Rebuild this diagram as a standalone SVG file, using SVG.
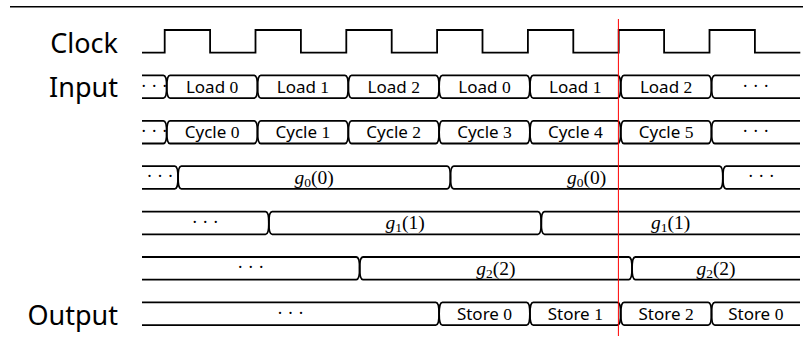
<svg xmlns="http://www.w3.org/2000/svg" xmlns:xlink="http://www.w3.org/1999/xlink" width="803" height="343" viewBox="0 0 803 343">
  <style>
    .w { fill: none; stroke: #000; stroke-width: 1.8; stroke-linejoin: round; }
    .clk { fill: none; stroke: #000; stroke-width: 1.8; stroke-linejoin: miter; }
    .name { font-family: "Noto Sans", "DejaVu Sans", sans-serif; font-size: 27px; text-anchor: end; fill: #000; }
    .lbl { font-family: "Noto Sans", "DejaVu Sans", sans-serif; font-size: 17px; text-anchor: middle; fill: #000; }
    .num { font-family: "Liberation Serif", "DejaVu Serif", serif; font-size: 17.5px; }
    .m { font-family: "Liberation Serif", "DejaVu Serif", serif; font-size: 19.5px; text-anchor: middle; fill: #000; }
    .it { font-style: italic; }
    .sub { font-size: 13.5px; }
    .dots { font-family: "Liberation Serif", "DejaVu Serif", serif; font-size: 18px; letter-spacing: 4.5px; text-anchor: middle; fill: #000; }
  </style>
  <defs>
    <!-- one bus cell spanning a full clock period, between two crossings -->
    <path id="cell" class="w" d="M3.3,0 H87.5 Q90.8,0 90.8,11.35 Q90.8,22.7 87.5,22.7 H3.3 Q0,22.7 0,11.35 Q0,0 3.3,0 Z"/>
  </defs>

  <!-- header rule -->
  <line x1="10" y1="6.8" x2="803" y2="6.8" stroke="#000" stroke-width="1.4"/>

  <g id="clock">
    <text class="name" x="118" y="52.7">Clock</text>
    <path class="clk" d="M142,52.7 H164.7 V30 H210.1 V52.7 H255.5 V30 H300.9 V52.7 H346.3 V30 H391.7 V52.7 H437.1 V30 H482.5 V52.7 H527.9 V30 H573.3 V52.7 H618.7 V30 H664.1 V52.7 H709.5 V30 H754.9 V52.7 H800.3"/>
  </g>

  <g id="input">
    <text class="name" x="118" y="97">Input</text>
    <path class="w" d="M142,75.4 H163.4 Q166.7,75.4 166.7,86.75 Q166.7,98.1 163.4,98.1 H142"/>
    <use xlink:href="#cell" x="166.7" y="75.4"/>
    <use xlink:href="#cell" x="257.5" y="75.4"/>
    <use xlink:href="#cell" x="348.3" y="75.4"/>
    <use xlink:href="#cell" x="439.1" y="75.4"/>
    <use xlink:href="#cell" x="529.9" y="75.4"/>
    <use xlink:href="#cell" x="620.7" y="75.4"/>
    <path class="w" d="M800,75.4 H714.8 Q711.5,75.4 711.5,86.75 Q711.5,98.1 714.8,98.1 H800"/>
    <text class="dots" x="156.5" y="91.5">···</text>
    <text class="lbl" x="212.1" y="92.6">Load <tspan class="num">0</tspan></text>
    <text class="lbl" x="302.9" y="92.6">Load <tspan class="num">1</tspan></text>
    <text class="lbl" x="393.7" y="92.6">Load <tspan class="num">2</tspan></text>
    <text class="lbl" x="484.5" y="92.6">Load <tspan class="num">0</tspan></text>
    <text class="lbl" x="575.3" y="92.6">Load <tspan class="num">1</tspan></text>
    <text class="lbl" x="666.1" y="92.6">Load <tspan class="num">2</tspan></text>
    <text class="dots" x="758" y="91.5">···</text>
  </g>

  <g id="cycle">
    <path class="w" d="M142,120.8 H163.4 Q166.7,120.8 166.7,132.15 Q166.7,143.5 163.4,143.5 H142"/>
    <use xlink:href="#cell" x="166.7" y="120.8"/>
    <use xlink:href="#cell" x="257.5" y="120.8"/>
    <use xlink:href="#cell" x="348.3" y="120.8"/>
    <use xlink:href="#cell" x="439.1" y="120.8"/>
    <use xlink:href="#cell" x="529.9" y="120.8"/>
    <use xlink:href="#cell" x="620.7" y="120.8"/>
    <path class="w" d="M800,120.8 H714.8 Q711.5,120.8 711.5,132.15 Q711.5,143.5 714.8,143.5 H800"/>
    <text class="dots" x="156.5" y="136.9">···</text>
    <text class="lbl" x="212.1" y="138">Cycle <tspan class="num">0</tspan></text>
    <text class="lbl" x="302.9" y="138">Cycle <tspan class="num">1</tspan></text>
    <text class="lbl" x="393.7" y="138">Cycle <tspan class="num">2</tspan></text>
    <text class="lbl" x="484.5" y="138">Cycle <tspan class="num">3</tspan></text>
    <text class="lbl" x="575.3" y="138">Cycle <tspan class="num">4</tspan></text>
    <text class="lbl" x="666.1" y="138">Cycle <tspan class="num">5</tspan></text>
    <text class="dots" x="758" y="136.9">···</text>
  </g>

  <g id="g0">
    <path class="w" d="M142,166.2 H174.75 Q178.05,166.2 178.05,177.55 Q178.05,188.9 174.75,188.9 H142"/>
    <path class="w" d="M181.35,166.2 H447.15 Q450.45,166.2 450.45,177.55 Q450.45,188.9 447.15,188.9 H181.35 Q178.05,188.9 178.05,177.55 Q178.05,166.2 181.35,166.2 Z"/>
    <path class="w" d="M453.75,166.2 H719.55 Q722.85,166.2 722.85,177.55 Q722.85,188.9 719.55,188.9 H453.75 Q450.45,188.9 450.45,177.55 Q450.45,166.2 453.75,166.2 Z"/>
    <path class="w" d="M800,166.2 H726.15 Q722.85,166.2 722.85,177.55 Q722.85,188.9 726.15,188.9 H800"/>
    <text class="dots" x="162.2" y="182.3">···</text>
    <text class="m" x="314.2" y="184"><tspan class="it">g</tspan><tspan class="sub" dy="3">0</tspan><tspan dy="-3">(0)</tspan></text>
    <text class="m" x="586.7" y="184"><tspan class="it">g</tspan><tspan class="sub" dy="3">0</tspan><tspan dy="-3">(0)</tspan></text>
    <text class="dots" x="763.6" y="182.3">···</text>
  </g>

  <g id="g1">
    <path class="w" d="M142,211.6 H265.55 Q268.85,211.6 268.85,222.95 Q268.85,234.3 265.55,234.3 H142"/>
    <path class="w" d="M272.15,211.6 H537.95 Q541.25,211.6 541.25,222.95 Q541.25,234.3 537.95,234.3 H272.15 Q268.85,234.3 268.85,222.95 Q268.85,211.6 272.15,211.6 Z"/>
    <path class="w" d="M800,211.6 H544.55 Q541.25,211.6 541.25,222.95 Q541.25,234.3 544.55,234.3 H800"/>
    <text class="dots" x="207.6" y="227.7">···</text>
    <text class="m" x="405.1" y="229.4"><tspan class="it">g</tspan><tspan class="sub" dy="3">1</tspan><tspan dy="-3">(1)</tspan></text>
    <text class="m" x="670.6" y="229.4"><tspan class="it">g</tspan><tspan class="sub" dy="3">1</tspan><tspan dy="-3">(1)</tspan></text>
  </g>

  <g id="g2">
    <path class="w" d="M142,257 H356.35 Q359.65,257 359.65,268.35 Q359.65,279.7 356.35,279.7 H142"/>
    <path class="w" d="M362.95,257 H628.75 Q632.05,257 632.05,268.35 Q632.05,279.7 628.75,279.7 H362.95 Q359.65,279.7 359.65,268.35 Q359.65,257 362.95,257 Z"/>
    <path class="w" d="M800,257 H635.35 Q632.05,257 632.05,268.35 Q632.05,279.7 635.35,279.7 H800"/>
    <text class="dots" x="253" y="273.1">···</text>
    <text class="m" x="495.9" y="274.8"><tspan class="it">g</tspan><tspan class="sub" dy="3">2</tspan><tspan dy="-3">(2)</tspan></text>
    <text class="m" x="716" y="274.8"><tspan class="it">g</tspan><tspan class="sub" dy="3">2</tspan><tspan dy="-3">(2)</tspan></text>
  </g>

  <g id="output">
    <text class="name" x="118" y="324.5">Output</text>
    <path class="w" d="M142,302.4 H435.8 Q439.1,302.4 439.1,313.75 Q439.1,325.1 435.8,325.1 H142"/>
    <use xlink:href="#cell" x="439.1" y="302.4"/>
    <use xlink:href="#cell" x="529.9" y="302.4"/>
    <use xlink:href="#cell" x="620.7" y="302.4"/>
    <path class="w" d="M800,302.4 H714.8 Q711.5,302.4 711.5,313.75 Q711.5,325.1 714.8,325.1 H800"/>
    <text class="dots" x="292.7" y="318.5">···</text>
    <text class="lbl" x="484.5" y="319.6">Store <tspan class="num">0</tspan></text>
    <text class="lbl" x="575.3" y="319.6">Store <tspan class="num">1</tspan></text>
    <text class="lbl" x="666.1" y="319.6">Store <tspan class="num">2</tspan></text>
    <text class="lbl" x="755.8" y="319.6">Store <tspan class="num">0</tspan></text>
  </g>

  <g id="connectors">
    <!-- vertical marker at the sixth rising edge -->
    <line x1="618.4" y1="19" x2="618.4" y2="336" stroke="#ff0000" stroke-width="1"/>
  </g>
</svg>
